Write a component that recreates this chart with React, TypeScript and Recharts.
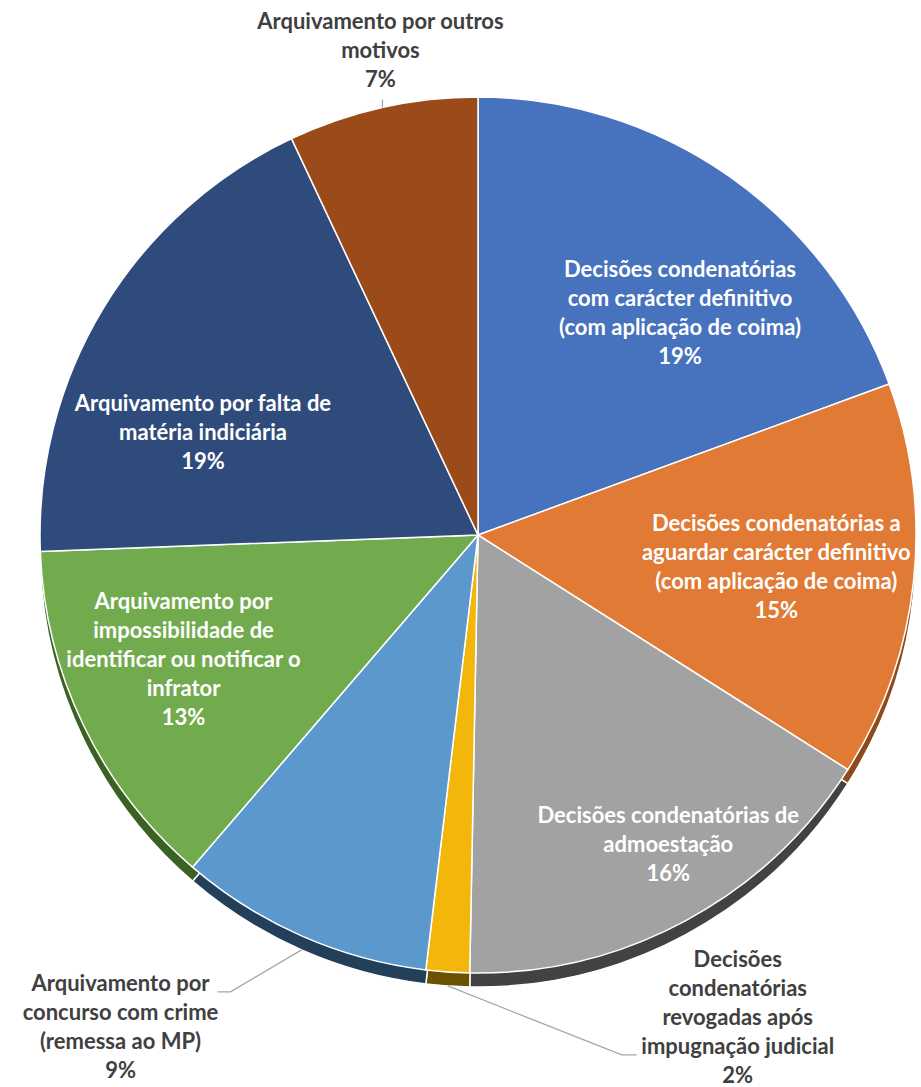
import React from "react";
import { PieChart, Pie, Cell } from "recharts";

// categories (line breaks as in the original labels)
const CATEGORIES = [
  "Decisões condenatórias\ncom carácter definitivo\n(com aplicação de coima)",
  "Decisões condenatórias a\naguardar carácter definitivo\n(com aplicação de coima)",
  "Decisões condenatórias de\nadmoestação",
  "Decisões\ncondenatórias\nrevogadas após\nimpugnação judicial",
  "Arquivamento por\nconcurso com crime\n(remessa ao MP)",
  "Arquivamento por\nimpossibilidade de\nidentificar ou notificar o\ninfrator",
  "Arquivamento por falta de\nmatéria indiciária",
  "Arquivamento por outros\nmotivos",
];

// share of each outcome (%)
const SHARES = [19.4, 14.6, 16.3, 1.6, 9.4, 13.1, 18.6, 7.0];

const COLORS = ["#4672BE", "#E07A35", "#A2A2A2", "#F2B70A", "#5B98CE", "#72AB4D", "#2F4B7B", "#9B4A19"];
const RIM_COLORS = ["#2B4A82", "#8F4A1C", "#424242", "#6B5200", "#233F5A", "#3B6123", "#1A2C4C", "#5A2A0A"];

const CX = 478;
const CY = 535;
const R = 438;
const DEPTH = 14;
const FONT = "Lato, 'Open Sans', sans-serif";
const FS = 22;
const LH = 29;

// label placement: inside labels -> radius ratio + angle nudge (deg, clockwise)
// outside labels -> offsets from the slice edge for elbow, tail end and text centre
const LABEL_LAYOUT: any[] = [
  { inside: true, ratio: 0.685, nudge: 7.4 },
  { inside: true, ratio: 0.685, nudge: 0 },
  { inside: true, ratio: 0.83, nudge: -3.3 },
  { inside: false, drop: DEPTH, elbow: [174, 69], tail: [189, 69], text: [290, 31] },
  { inside: false, drop: DEPTH, elbow: [-71, 42], tail: [-84, 42], text: [-181, 77] },
  { inside: true, ratio: 0.73, nudge: 2.8 },
  { inside: true, ratio: 0.67, nudge: -10.9 },
  { inside: false, drop: 0, elbow: [0, -8], tail: [0, -8], text: [-2, -57] },
];

const RAD = Math.PI / 180;

function TextBlock({ x, y, lines, fill }: { x: number; y: number; lines: string[]; fill: string }) {
  const n = lines.length;
  return (
    <text textAnchor="middle" fontFamily={FONT} fontWeight={700} fontSize={FS} fill={fill}>
      {lines.map((l, i) => (
        <tspan key={i} x={x} y={y + (i - (n - 1) / 2) * LH + FS * 0.35}>
          {l}
        </tspan>
      ))}
    </text>
  );
}

function renderLabel(props: any) {
  const { cx, cy, midAngle, outerRadius, percent, index } = props;
  const lay = LABEL_LAYOUT[index];
  const lines = CATEGORIES[index].split("\n").concat(`${Math.round(percent * 100)}%`);
  const theta = (90 - midAngle) * RAD;
  if (lay.inside) {
    const t = theta + lay.nudge * RAD;
    const x = cx + outerRadius * lay.ratio * Math.sin(t);
    const y = cy - outerRadius * lay.ratio * Math.cos(t);
    return <TextBlock key={`lbl-${index}`} x={x} y={y} lines={lines} fill="#FFFFFF" />;
  }
  const ex = cx + outerRadius * Math.sin(theta);
  const ey = cy - outerRadius * Math.cos(theta) + lay.drop;
  const pts = [
    [ex, ey],
    [ex + lay.elbow[0], ey + lay.elbow[1]],
    [ex + lay.tail[0], ey + lay.tail[1]],
  ];
  return (
    <g key={`lbl-${index}`}>
      <polyline points={pts.map((p) => p.join(",")).join(" ")} fill="none" stroke="#A6A6A6" strokeWidth={1.3} />
      <TextBlock x={ex + lay.text[0]} y={ey + lay.text[1]} lines={lines} fill="#404040" />
    </g>
  );
}

export default function App() {
  const data = CATEGORIES.map((name, i) => ({ name, value: SHARES[i] }));
  return (
    <div style={{ position: "absolute", left: 0, top: 0, width: 921, height: 1087, background: "#FFFFFF" }}>
      <PieChart width={921} height={1087} margin={{ top: 0, right: 0, bottom: 0, left: 0 }}>
        {/* side of the 3D disc */}
        <Pie
          data={data}
          dataKey="value"
          cx={CX}
          cy={CY + DEPTH}
          outerRadius={R}
          startAngle={90}
          endAngle={-270}
          stroke="#FFFFFF"
          strokeWidth={1.5}
          isAnimationActive={false}
        >
          {data.map((_, i) => (
            <Cell key={`rim-${i}`} fill={RIM_COLORS[i]} />
          ))}
        </Pie>
        <Pie
          data={data}
          dataKey="value"
          cx={CX}
          cy={CY}
          outerRadius={R}
          startAngle={90}
          endAngle={-270}
          stroke="#FFFFFF"
          strokeWidth={1.5}
          label={renderLabel}
          labelLine={false}
          isAnimationActive={false}
        >
          {data.map((_, i) => (
            <Cell key={`cell-${i}`} fill={COLORS[i]} />
          ))}
        </Pie>
      </PieChart>
    </div>
  );
}
